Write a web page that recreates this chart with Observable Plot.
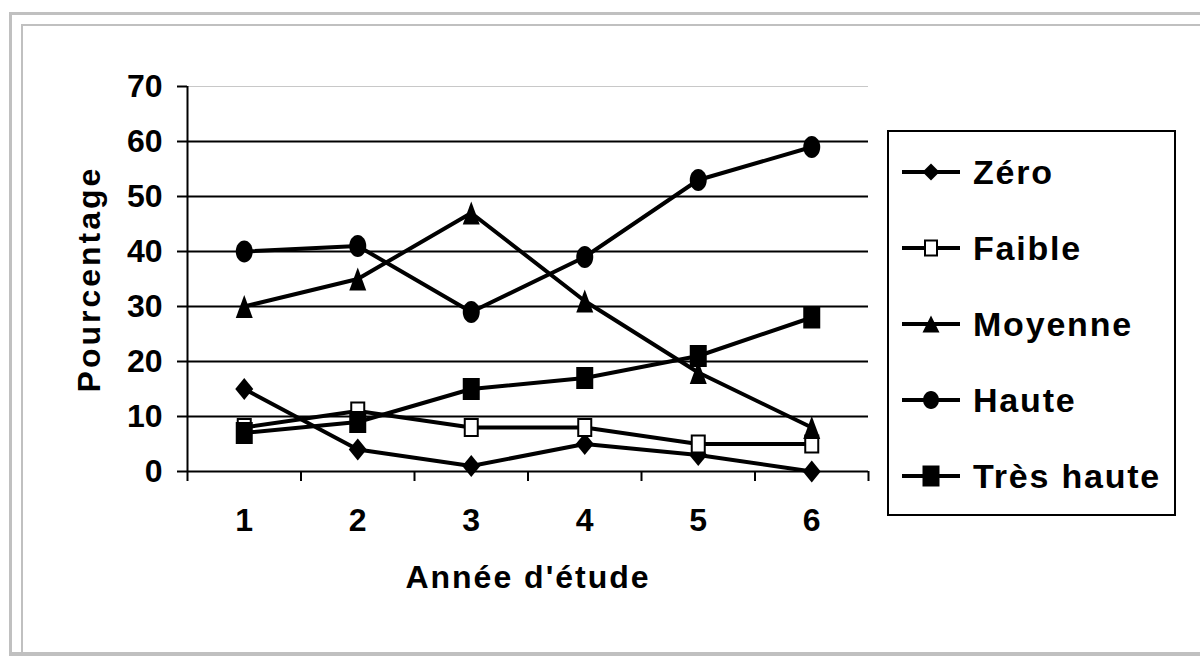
<!DOCTYPE html>
<html><head><meta charset="utf-8">
<script src="https://cdn.jsdelivr.net/npm/d3@7"></script>
<script src="https://cdn.jsdelivr.net/npm/@observablehq/plot@0.6"></script>
<style>
html,body{margin:0;padding:0;background:#fff;}
body{width:1200px;height:657px;overflow:hidden;position:relative;font-family:"Liberation Sans",Arial,sans-serif;}
#b1{position:absolute;left:9px;top:12px;width:1200px;height:637px;border-left:3px solid #c0c0c0;border-top:3px solid #c0c0c0;border-bottom:4px solid #c0c0c0;}
#b2{position:absolute;left:21px;top:24px;width:1200px;height:630px;border-left:2px solid #c0c0c0;border-top:2px solid #c0c0c0;}
#chart{position:absolute;left:0;top:0;}
#legend{position:absolute;left:887px;top:130px;width:285px;height:382px;border:2px solid #000;background:#fff;}
.row{position:absolute;left:0;height:40px;}
.row svg{position:absolute;left:10px;top:0;}
.row span{position:absolute;left:84px;font-weight:bold;font-size:34px;letter-spacing:1.8px;white-space:nowrap;color:#000;line-height:40px;top:0;}
g[aria-label="y-axis label"] text{letter-spacing:3px;}
g[aria-label="x-axis label"] text{letter-spacing:2px;}
</style>
</head><body>
<div id="b1"></div><div id="b2"></div>
<div id="chart"></div>
<div id="legend"></div>
<script>
// ---- data ----
const years = [1, 2, 3, 4, 5, 6];
const zero = [15, 4, 1, 5, 3, 0];
const faible = [8, 11, 8, 8, 5, 5];
const moyenne = [30, 35, 47, 31, 18, 8];
const haute = [40, 41, 29, 39, 53, 59];
const tresHaute = [7, 9, 15, 17, 21, 28];
const seriesNames = ["Zéro", "Faible", "Moyenne", "Haute", "Très haute"];
const seriesValues = [zero, faible, moyenne, haute, tresHaute];
const yTicks = [0, 10, 20, 30, 40, 50, 60, 70];
const yLabel = "Pourcentage";
const xLabel = "Année d'étude";

// ---- custom marker shapes (styling only) ----
function shape(kind, w, h) {
  return {
    draw(ctx) {
      const a = w / 2, b = h / 2;
      if (kind === "ellipse") {
        const c = 0.5523;
        ctx.moveTo(a, 0);
        ctx.bezierCurveTo(a, b * c, a * c, b, 0, b);
        ctx.bezierCurveTo(-a * c, b, -a, b * c, -a, 0);
        ctx.bezierCurveTo(-a, -b * c, -a * c, -b, 0, -b);
        ctx.bezierCurveTo(a * c, -b, a, -b * c, a, 0);
      } else if (kind === "rect") {
        ctx.moveTo(-a, -b); ctx.lineTo(a, -b); ctx.lineTo(a, b); ctx.lineTo(-a, b);
      } else if (kind === "diamond") {
        ctx.moveTo(0, -b); ctx.lineTo(a, 0); ctx.lineTo(0, b); ctx.lineTo(-a, 0);
      } else if (kind === "triangle") {
        ctx.moveTo(0, -b); ctx.lineTo(a, b); ctx.lineTo(-a, b);
      }
      ctx.closePath();
    }
  };
}
const mainSymbols = [shape("diamond", 18, 22), shape("rect", 13, 17), shape("triangle", 17, 23), shape("ellipse", 17, 22), shape("rect", 17, 22)];
const legendSymbols = [shape("diamond", 17, 17), shape("rect", 12, 15), shape("triangle", 17, 17), shape("ellipse", 16, 18), shape("rect", 17, 21)];
const fills = ["#000", "#fff", "#000", "#000", "#000"];
const strokeW = [0, 2, 0, 0, 0];

// derived tick positions for category boundaries
const bounds = years.map(v => v - 0.5).concat([years[years.length - 1] + 0.5]);

const marks = [
  Plot.ruleY([yTicks[yTicks.length - 1]], {stroke: "#c8c8c8", strokeWidth: 1}),
  Plot.gridY(yTicks.slice(1, -1), {stroke: "#000", strokeOpacity: 1, strokeWidth: 2}),
  Plot.axisY(yTicks, {tickSize: 10, tickPadding: 15, stroke: "#000", strokeWidth: 2, fontSize: 32,
    label: yLabel, labelAnchor: "center", labelOffset: 110, labelArrow: false}),
  Plot.axisX(years, {tickSize: 0, tickPadding: 37, fontSize: 32, tickFormat: d => String(d),
    label: xLabel, labelAnchor: "center", labelOffset: 116, labelArrow: false}),
  Plot.axisX(bounds, {tickSize: 10, tickFormat: () => "", stroke: "#000", strokeWidth: 2, label: null}),
  Plot.ruleY([0], {stroke: "#000", strokeWidth: 2}),
  Plot.ruleX([bounds[0]], {y1: yTicks[0], y2: yTicks[yTicks.length - 1], stroke: "#000", strokeWidth: 2})
];
seriesNames.forEach((name, i) => {
  const d = years.map((yr, j) => ({series: name, year: yr, value: seriesValues[i][j]}));
  marks.push(Plot.line(d, {x: "year", y: "value", stroke: "#000", strokeWidth: 4}));
  marks.push(Plot.dot(d, {x: "year", y: "value", symbol: mainSymbols[i], fill: fills[i], stroke: "#000", strokeWidth: strokeW[i]}));
});

const chart = Plot.plot({
  width: 1200, height: 657,
  marginLeft: 187, marginRight: 332, marginTop: 86, marginBottom: 186,
  x: {type: "linear", domain: [bounds[0], bounds[bounds.length - 1]]},
  y: {domain: [yTicks[0], yTicks[yTicks.length - 1]]},
  style: {background: "transparent", fontFamily: "'Liberation Sans', Arial, sans-serif", fontSize: "30px", fontWeight: "bold", color: "#000", overflow: "visible"},
  marks
});
document.getElementById("chart").appendChild(chart);

// ---- legend ----
const leg = document.getElementById("legend");
seriesNames.forEach((name, i) => {
  const row = document.createElement("div");
  row.className = "row";
  row.style.top = (20 + i * 76) + "px";
  row.style.width = "280px";
  const svg = d3.create("svg").attr("width", 64).attr("height", 40);
  svg.append("line").attr("x1", 3).attr("x2", 61).attr("y1", 20).attr("y2", 20).attr("stroke", "#000").attr("stroke-width", 4);
  svg.append("path").attr("transform", "translate(32,20)").attr("d", d3.symbol(legendSymbols[i])())
    .attr("fill", fills[i]).attr("stroke", "#000").attr("stroke-width", strokeW[i]);
  row.appendChild(svg.node());
  const sp = document.createElement("span");
  sp.textContent = name;
  row.appendChild(sp);
  leg.appendChild(row);
});
</script>
</body></html>
